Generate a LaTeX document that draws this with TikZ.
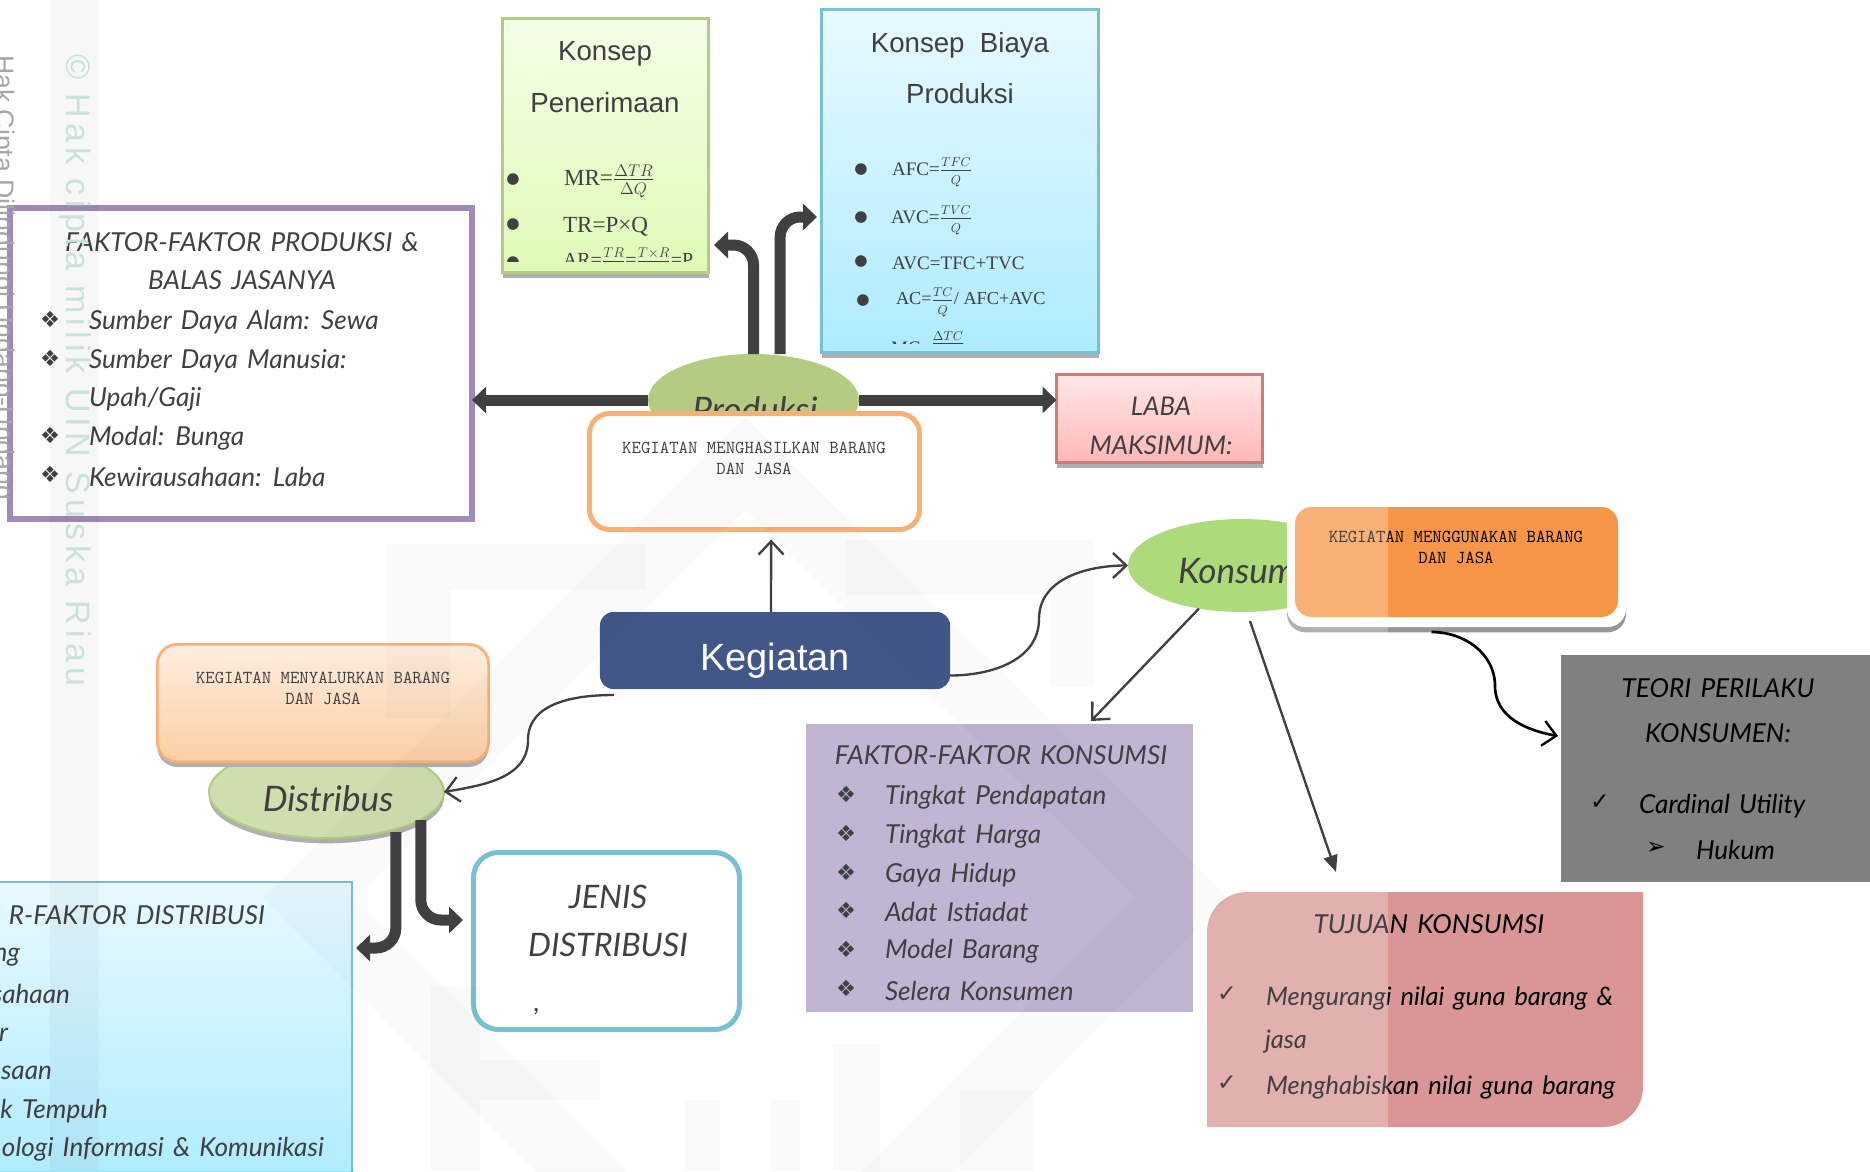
\documentclass[tikz,border=0pt]{standalone}
\usepackage{fontspec}
\usepackage{amsmath}
\usetikzlibrary{arrows.meta,shapes.geometric,shadows}
\setmainfont{Liberation Serif}
\newfontfamily\handfont[WordSpace=1.5]{Lato}
\newfontfamily\headfont{Liberation Sans}
\newfontfamily\markfont[LetterSpace=15]{Liberation Sans}
\newfontfamily\symfont{DejaVu Sans}
\newcommand{\tallfrac}[2]{\frac{\rule[-2pt]{0pt}{10pt}#1}{\rule{0pt}{11pt}#2}}
\definecolor{purpleline}{HTML}{8064A2}
\definecolor{purplefill}{HTML}{AD9DC5}
\definecolor{greenline}{HTML}{9BBB59}
\definecolor{orangeline}{HTML}{F79646}
\definecolor{aqualine}{HTML}{4BACC6}
\definecolor{redline}{HTML}{C0504D}
\definecolor{redfill}{HTML}{D99694}
\definecolor{navyfill}{HTML}{002060}
\definecolor{limefill}{HTML}{92D050}
\definecolor{shadowgray}{HTML}{969696}
\definecolor{markgreen}{HTML}{C9E2DA}
\definecolor{greentop}{HTML}{F1FFE0}
\definecolor{greenlow}{HTML}{D5F9A0}
\definecolor{aquatop}{HTML}{E0F7FF}
\definecolor{aqualow}{HTML}{93E5FF}
\definecolor{redtop}{HTML}{FFE0E0}
\definecolor{redlow}{HTML}{FFA0A0}
\definecolor{peachtop}{HTML}{FDE8D5}
\definecolor{peachlow}{HTML}{FCBF87}
\definecolor{sagefill}{HTML}{C0D493}
\tikzset{
	every node/.style={inner sep=0pt,outer sep=0pt},
	lowshadow/.style={general shadow={shadow xshift=0cm,shadow yshift=-0.16cm,fill=shadowgray}},
	plainbox/.style={rectangle,draw,line width=0.09cm},
	roundbox/.style={rectangle,rounded corners=0.6cm,draw=orangeline,line width=0.15cm,fill=white},
	blob/.style={ellipse},
	handtext/.style={font=\handfont\itshape\fontsize{22.3pt}{22.3pt}\selectfont,text=black},
	smallhand/.style={font=\handfont\itshape\fontsize{21.7pt}{21.7pt}\selectfont,text=black},
	bighand/.style={font=\handfont\itshape\fontsize{30pt}{30pt}\selectfont,text=black},
	midhand/.style={font=\handfont\itshape\fontsize{22pt}{22pt}\selectfont,text=black},
	tallhand/.style={font=\handfont\itshape\fontsize{27.6pt}{27.6pt}\selectfont,text=black},
	titletext/.style={font=\headfont\fontsize{23.6pt}{23.6pt}\selectfont,text=black},
	monotext/.style={font=\ttfamily\fontsize{15.6pt}{18pt}\selectfont,align=center,text=black},
	formula/.style={font=\fontsize{16.3pt}{16.3pt}\selectfont,text=black},
	bigformula/.style={font=\fontsize{19.7pt}{19.7pt}\selectfont,text=black},
	dotmark/.style={font=\symfont\fontsize{13pt}{13pt}\selectfont,text=black},
	listmark/.style={font=\symfont\fontsize{19pt}{19pt}\selectfont,text=black},
	tickmark/.style={font=\symfont\fontsize{20pt}{20pt}\selectfont,text=black},
	fatline/.style={draw=black,line width=0.33cm,rounded corners=0.6cm,-{Triangle[length=0.42cm,width=0.78cm]}},
	thinline/.style={draw=black,line width=0.07cm,-{Straight Barb[length=0.4cm,width=0.75cm,line width=0.07cm]}},
	logomark/.style={fill=black,opacity=0.027}
}
\begin{document}
\begin{tikzpicture}[x=0.03cm,y=-0.03cm]
	\useasboundingbox (0,0) rectangle (1870,1171);

	\coordinate (penerimaanin) at (714,245);
	\coordinate (biayain) at (817,217);
	\coordinate (konsumsimid) at (1039,619);
	\coordinate (distribusmid) at (528,740);
	\coordinate (teorimid) at (1495,686);
	\coordinate (teoriin) at (1558,736);
	\coordinate (kfaktorin) at (1091,721);
	\coordinate (tujuanin) at (1336,872);
	\coordinate (jenisin) at (463,920);
	\coordinate (dfaktorin) at (356,948);

	\node[plainbox,draw=purpleline,line width=0.18cm,fill=white,minimum width=13.86cm,minimum height=9.33cm] (faktorproduksi) at (241,363.5) {};
	\node[plainbox,draw=greenline,lowshadow,top color=greentop,bottom color=greenlow,minimum width=6.18cm,minimum height=7.62cm] (penerimaan) at (605.5,145.5) {};
	\node[plainbox,draw=aqualine,lowshadow,top color=aquatop,bottom color=aqualow,minimum width=8.31cm,minimum height=10.29cm] (biaya) at (960,181) {};
	\node[plainbox,draw=redline,lowshadow,top color=redtop,bottom color=redlow,minimum width=6.18cm,minimum height=2.64cm] (laba) at (1159.5,418.5) {};
	\node[plainbox,draw=aqualine,line width=0.06cm,top color=aquatop,bottom color=aqualow,minimum width=11.13cm,minimum height=9.21cm] (faktordistribusi) at (166.5,1035.5) {};
	\node[rectangle,fill=purplefill,minimum width=11.61cm,minimum height=8.64cm] (faktorkonsumsi) at (999.5,868) {};
	\node[rectangle,fill=black!50,minimum width=9.87cm,minimum height=6.81cm] (teori) at (1725.5,768.5) {};
	\fill[redfill] (1207,1127) [rounded corners=1.2cm] -- (1207,892) [sharp corners] -- (1643,892) [rounded corners=1.2cm] -- (1643,1127) [sharp corners] -- cycle;

	\node[blob,fill=greenline,minimum width=6.33cm,minimum height=2.76cm] (produksi) at (753.5,400) {};
	\node[bighand] (produksitext) at (755,410) {Produksi};
	\draw[fatline] (produksi.west) -- (produksi.west -| faktorproduksi.east);
	\draw[fatline] (produksi.east) -- (produksi.east -| laba.west);
	\draw[fatline] (produksi.north) |- (penerimaanin);
	\draw[fatline] ([xshift=0.8cm]produksi.north) |- (biayain);
	\node[roundbox,minimum width=9.9cm,minimum height=3.48cm] (menghasilkan) at (754.5,471.5) {};
	\node[monotext] (menghasilkantext) at (754,458) {KEGIATAN MENGHASILKAN BARANG\\DAN JASA};

	\node[blob,fill=limefill,minimum width=6.84cm,minimum height=2.79cm] (konsumsi) at (1242,565.5) {};
	\node[bighand,anchor=west] (konsumsitext) at (1178,571) {Konsumsi};
	\node[rectangle,rounded corners=0.55cm,fill=white,lowshadow,minimum width=10.17cm,minimum height=3.9cm] (menggunakanrim) at (1456.5,562) {};
	\node[rectangle,rounded corners=0.5cm,fill=orangeline,minimum width=9.69cm,minimum height=3.3cm] (menggunakan) at (1456.5,562) {};
	\node[monotext] (menggunakantext) at (1456,547) {KEGIATAN MENGGUNAKAN BARANG\\DAN JASA};

	\node[blob,draw=greenline,line width=0.06cm,fill=sagefill,lowshadow,minimum width=7.05cm,minimum height=2.76cm] (distribus) at (326.5,792) {};
	\node[bighand] (distribustext) at (328,799) {Distribus};
	\node[roundbox,lowshadow,line width=0.08cm,top color=peachtop,bottom color=peachlow,minimum width=9.94cm,minimum height=3.52cm] (menyalurkan) at (323,703) {};
	\node[monotext] (menyalurkantext) at (323,688) {KEGIATAN MENYALURKAN BARANG\\DAN JASA};
	\draw[fatline] ([xshift=2.08cm,yshift=0.18cm]distribus.south) |- (dfaktorin);
	\draw[fatline] ([xshift=2.83cm,yshift=0.54cm]distribus.south) |- (jenisin);
	\node[roundbox,draw=aqualine,rounded corners=0.75cm,minimum width=7.98cm,minimum height=5.31cm] (jenis) at (606.5,941) {};

	\node[rectangle,rounded corners=0.4cm,fill=navyfill,minimum width=10.5cm,minimum height=2.31cm] (kegiatan) at (775,650.5) {};
	\node[font=\headfont\fontsize{32.4pt}{32.4pt}\selectfont,text=white] (kegiatantext) at (775,661) {Kegiatan};
	\draw[thinline] ([xshift=-0.12cm]kegiatan.north) -- ([xshift=0.5cm,yshift=-0.3cm]menghasilkan.south);
	\draw[thinline] ([yshift=-0.75cm]kegiatan.east) to[out=0,in=-90] (konsumsimid) to[out=90,in=180] (konsumsi.west);
	\draw[thinline] ([xshift=0.42cm,yshift=-0.18cm]kegiatan.south west) to[out=180,in=90] (distribusmid) to[out=-90,in=10] (distribus.east);
	\draw[thinline] (konsumsi.225) -- (kfaktorin);
	\draw[draw=black,line width=0.07cm,-{Triangle[length=0.5cm,width=0.42cm]}] ([shift={(0.24cm,-0.27cm)}]konsumsi.south) -- (tujuanin);
	\draw[thinline,line width=0.08cm] ([xshift=-0.75cm,yshift=-0.15cm]menggunakanrim.south) to[out=0,in=90] (teorimid) to[out=-90,in=170] (teoriin);

	\node[titletext] (penerimaanA) at (605,54) {Konsep};
	\node[titletext] (penerimaanB) at (605,103) {Penerimaan};
	\begin{scope}
		\clip (501,17) rectangle (710,261);
		\node[dotmark] (penerimaan1) at (513,180) {●};
		\node[dotmark] (penerimaan2) at (513,225) {●};
		\node[dotmark] (penerimaan3) at (513,263) {●};
		\node[bigformula,anchor=west] (mr) at (564,181) {MR=$\tallfrac{\Delta TR}{\Delta Q}$};
		\node[bigformula,anchor=west] (tr) at (563,227) {TR=P×Q};
		\node[font=\fontsize{17pt}{17pt}\selectfont,text=black,anchor=west] (ar) at (563,263) {AR=$\tallfrac{TR}{Q}$=$\tallfrac{T\times R}{Q}$=P};
	\end{scope}

	\node[titletext] (biayaA) at (960,45) {Konsep\ \ Biaya};
	\node[titletext] (biayaB) at (960,94) {Produksi};
	\node[dotmark] (biaya1) at (861,170) {●};
	\node[dotmark] (biaya2) at (861,218) {●};
	\node[dotmark] (biaya3) at (861,262) {●};
	\node[dotmark] (biaya4) at (863,301) {●};
	\node[formula,anchor=west] (afc) at (892,172) {AFC=$\tallfrac{TFC}{Q}$};
	\node[formula,anchor=west] (avc) at (891,220) {AVC=$\tallfrac{TVC}{Q}$};
	\node[formula,anchor=west] (tvc) at (892,263) {AVC=TFC+TVC};
	\node[font=\fontsize{15.6pt}{15.6pt}\selectfont,text=black,anchor=west] (ac) at (896,302) {AC=$\tallfrac{TC}{Q}$/ AFC+AVC};
	\begin{scope}
		\clip (825,322) rectangle (1095,343);
		\node[formula,anchor=west] (mc) at (891,345) {\raisebox{-5pt}{MC=}$\frac{\Delta TC}{\Delta Q}$};
	\end{scope}

	\node[midhand] (laba1) at (1161,406) {LABA};
	\node[midhand] (laba2) at (1161,445) {MAKSIMUM:};

	\node[handtext] (produksiA) at (242,242) {FAKTOR-FAKTOR PRODUKSI \&};
	\node[handtext] (produksiB) at (242,280) {BALAS JASANYA};
	\node[listmark] (produksi1) at (50,319) {❖};
	\node[listmark] (produksi2) at (50,358) {❖};
	\node[listmark] (produksi4) at (50,435) {❖};
	\node[listmark] (produksi5) at (50,474) {❖};
	\node[handtext,anchor=west] (alam) at (89,322) {Sumber Daya Alam: Sewa};
	\node[handtext,anchor=west] (manusia) at (89,361) {Sumber Daya Manusia:};
	\node[handtext,anchor=west] (upah) at (89,399) {Upah/Gaji};
	\node[handtext,anchor=west] (modal) at (89,438) {Modal: Bunga};
	\node[handtext,anchor=west] (wirausaha) at (89,477) {Kewirausahaan: Laba};

	\node[handtext,anchor=east] (distribusiA) at (265,915) {R-FAKTOR DISTRIBUSI};
	\node[handtext,anchor=east] (distribusiB) at (20,957) {ng};
	\node[handtext,anchor=east] (distribusiC) at (70,994) {sahaan};
	\node[handtext,anchor=east] (distribusiD) at (8,1035) {r};
	\node[handtext,anchor=east] (distribusiE) at (52,1073) {asaan};
	\node[handtext,anchor=east] (distribusiF) at (108,1111) {k Tempuh};
	\node[handtext,anchor=east] (distribusiG) at (324,1149) {ologi Informasi \& Komunikasi};

	\node[tallhand] (jenisA) at (608,897) {JENIS};
	\node[tallhand] (jenisB) at (608,945) {DISTRIBUSI};
	\node[handtext] (jenisC) at (537,1012) {,};

	\node[handtext] (konsumsiA) at (1001,755) {FAKTOR-FAKTOR KONSUMSI};
	\node[listmark] (konsumsi1) at (846,794) {❖};
	\node[listmark] (konsumsi2) at (846,833) {❖};
	\node[listmark] (konsumsi3) at (846,872) {❖};
	\node[listmark] (konsumsi4) at (846,910) {❖};
	\node[listmark] (konsumsi5) at (846,949) {❖};
	\node[listmark] (konsumsi6) at (846,988) {❖};
	\node[handtext,anchor=west] (pendapatan) at (885,797) {Tingkat Pendapatan};
	\node[handtext,anchor=west] (harga) at (885,836) {Tingkat Harga};
	\node[handtext,anchor=west] (hidup) at (885,875) {Gaya Hidup};
	\node[handtext,anchor=west] (adat) at (885,912) {Adat Istiadat};
	\node[handtext,anchor=west] (model) at (885,951) {Model Barang};
	\node[handtext,anchor=west] (selera) at (885,991) {Selera Konsumen};

	\node[handtext] (tujuanA) at (1429,924) {TUJUAN KONSUMSI};
	\node[tickmark] (tujuan1) at (1227,994) {✓};
	\node[tickmark] (tujuan2) at (1227,1083) {✓};
	\node[smallhand,anchor=west] (kurangi) at (1266,998) {Mengurangi nilai guna barang \&};
	\node[smallhand,anchor=west] (jasa) at (1265,1042) {jasa};
	\node[smallhand,anchor=west] (habis) at (1266,1087) {Menghabiskan nilai guna barang};

	\node[handtext] (teoriA) at (1718,688) {TEORI PERILAKU};
	\node[handtext] (teoriB) at (1718,733) {KONSUMEN:};
	\node[tickmark] (teori1) at (1600,802) {✓};
	\node[tickmark] (teori2) at (1656,848) {➢};
	\node[handtext,anchor=west] (cardinal) at (1639,806) {Cardinal Utility};
	\node[handtext,anchor=west] (hukum) at (1696,850) {Hukum};

	\fill[logomark,even odd rule] (745,417) -- (1228,898) -- (745,1381) -- (263,898) -- cycle (745,510) -- (1135,898) -- (745,1288) -- (355,898) -- cycle;
	\fill[logomark] (387,544) rectangle (645,590);
	\fill[logomark] (387,590) rectangle (451,718);
	\fill[logomark] (846,540) rectangle (1094,595);
	\fill[logomark] (1050,595) rectangle (1094,687);
	\fill[logomark] (431,987) rectangle (480,1171);
	\fill[logomark] (480,1060) rectangle (600,1100);
	\fill[logomark] (685,1100) rectangle (720,1171);
	\fill[logomark] (770,1100) rectangle (800,1171);
	\fill[logomark] (833,1044) rectangle (880,1171);
	\fill[logomark] (960,1090) rectangle (1034,1171);
	\fill[white,opacity=0.25] (0,0) rectangle (1388,1171);
	\fill[black,opacity=0.03] (50,0) rectangle (99,1171);
	\node[font=\markfont\fontsize{29pt}{29pt}\selectfont,text=markgreen,rotate=-90,anchor=west] (hakcipta) at (75,54) {© Hak cipta milik UIN Suska Riau};
	\node[font=\headfont\fontsize{22.8pt}{22.8pt}\selectfont,text=black!35,rotate=-90,anchor=west] (hakundang) at (2,55) {Hak Cipta Dilindungi Undang-Undang};
\end{tikzpicture}
\end{document}
